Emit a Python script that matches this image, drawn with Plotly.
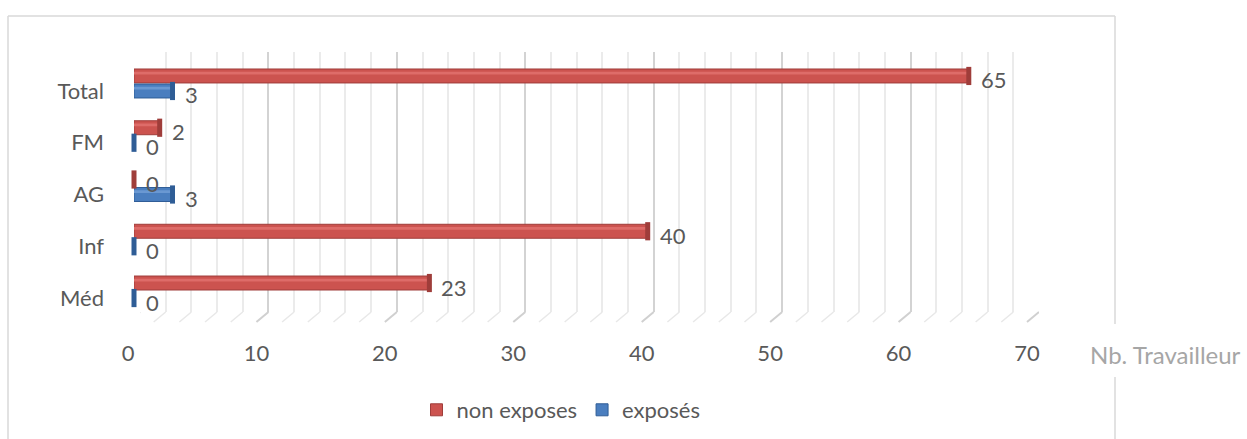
import plotly.graph_objects as go

# ---- data ----
categories = ["Méd", "Inf", "AG", "FM", "Total"]
non_exposes = [23, 40, 0, 2, 65]
exposes = [0, 0, 3, 0, 3]
series_names = ["non exposes", "exposés"]
x_ticks = [0, 10, 20, 30, 40, 50, 60, 70]
axis_title = "Nb. Travailleur"

W, H = 1247, 439
FONT = "Lato"
FS = 22
TXT = "#595959"
RED, RED_D, RED_L = "#cc534f", "#9f3d3a", "#de6c69"
BLUE, BLUE_D, BLUE_L = "#4a7ebf", "#2f5d96", "#6a98d2"


def px_x(p):
    return p / W


def px_y(p):
    return (H - p) / H


# category positions & series offsets (in category units)
idx = list(range(len(categories)))
off = 0.145
y_red = [i + off for i in idx]
y_blue = [i - off for i in idx]
bw = 0.27

fig = go.Figure()

# subplot 1 (x / y): back wall with grid -- dummy trace only
fig.add_trace(go.Scatter(x=[0, 70], y=[0, 1], mode="none", xaxis="x", yaxis="y",
                         showlegend=False, hoverinfo="skip"))

# subplot 2 (x2 / y2): bars on the middle plane
fig.add_trace(go.Bar(x=non_exposes, y=y_red, orientation="h", width=bw, name=series_names[0],
                     marker=dict(color=RED, line=dict(color=RED_D, width=1)), xaxis="x2", yaxis="y2"))
fig.add_trace(go.Bar(x=exposes, y=y_blue, orientation="h", width=bw, name=series_names[1],
                     marker=dict(color=BLUE, line=dict(color=BLUE_D, width=1)), xaxis="x2", yaxis="y2"))
fig.add_trace(go.Bar(x=non_exposes, y=[v + 0.055 for v in y_red], orientation="h", width=0.05,
                     marker=dict(color=RED_L, line=dict(width=0)), showlegend=False, hoverinfo="skip",
                     xaxis="x2", yaxis="y2"))
fig.add_trace(go.Bar(x=exposes, y=[v + 0.055 for v in y_blue], orientation="h", width=0.05,
                     marker=dict(color=BLUE_L, line=dict(width=0)), showlegend=False, hoverinfo="skip",
                     xaxis="x2", yaxis="y2"))
fig.add_trace(go.Scatter(x=non_exposes, y=y_red, mode="markers", showlegend=False, hoverinfo="skip",
                         cliponaxis=False,
                         marker=dict(symbol="line-ns", size=13, line=dict(color=RED_D, width=5)),
                         xaxis="x2", yaxis="y2"))
fig.add_trace(go.Scatter(x=exposes, y=y_blue, mode="markers", showlegend=False, hoverinfo="skip",
                         cliponaxis=False,
                         marker=dict(symbol="line-ns", size=13, line=dict(color=BLUE_D, width=5)),
                         xaxis="x2", yaxis="y2"))

# subplot 3 (x3 / y3): front edge carrying the tick labels -- dummy trace
fig.add_trace(go.Scatter(x=[0, 70], y=[0, 1], mode="none", xaxis="x3", yaxis="y3",
                         showlegend=False, hoverinfo="skip"))

# data labels
ann = []
for vals, ys in ((non_exposes, y_red), (exposes, y_blue)):
    for v, yy in zip(vals, ys):
        ann.append(dict(x=v, y=yy, xref="x2", yref="y2", text=str(v), showarrow=False,
                        xanchor="left", yanchor="middle", xshift=10, yshift=-4,
                        font=dict(family=FONT, size=FS, color=TXT)))
ann.append(dict(x=px_x(1165), y=px_y(354), xref="paper", yref="paper", text=axis_title,
                showarrow=False, xanchor="center", yanchor="middle",
                font=dict(family=FONT, size=24, color="#a6a6a6")))

# floor diagonals + frame
shapes = []
for t in range(0, 71, 2):
    major = t % 10 == 0
    shapes.append(dict(type="line", xref="x", yref="paper", xsizemode="pixel", xanchor=t,
                       x0=0, x1=-12, y0=px_y(312), y1=px_y(322),
                       line=dict(color="#d0d0d0" if major else "#e8e8e8", width=2 if major else 1.5)))
frame = dict(color="#d9d9d9", width=1.5)
shapes += [
    dict(type="line", xref="paper", yref="paper", x0=px_x(8), x1=px_x(1115), y0=px_y(16), y1=px_y(16), line=frame),
    dict(type="line", xref="paper", yref="paper", x0=px_x(8), x1=px_x(8), y0=px_y(16), y1=0, line=frame),
    dict(type="line", xref="paper", yref="paper", x0=px_x(1115), x1=px_x(1115), y0=px_y(16), y1=px_y(324), line=frame),
    dict(type="line", xref="paper", yref="paper", x0=px_x(1115), x1=px_x(1115), y0=px_y(377), y1=0, line=frame),
]

noax = dict(showgrid=False, zeroline=False, showline=False, automargin=False)

fig.update_layout(
    width=W, height=H, autosize=False, margin=dict(l=0, r=0, t=0, b=0, pad=0),
    paper_bgcolor="white", plot_bgcolor="rgba(0,0,0,0)",
    barmode="overlay", font=dict(family=FONT, color=TXT, size=FS),
    showlegend=True,
    legend=dict(orientation="h", x=px_x(561), y=px_y(410), xanchor="center", yanchor="middle",
                font=dict(family=FONT, size=FS, color=TXT), itemwidth=30, traceorder="normal"),
    # back wall
    xaxis=dict(domain=[px_x(140), px_x(1039)], range=[0, 70], anchor="y",
               showgrid=True, gridcolor="#d3d3d3", gridwidth=2, dtick=10, tick0=0,
               minor=dict(dtick=2, showgrid=True, gridcolor="#ebebeb", gridwidth=1.5),
               showticklabels=False, zeroline=False, showline=False, automargin=False),
    yaxis=dict(domain=[px_y(312), px_y(52)], range=[0, 1], anchor="x", showticklabels=False, **noax),
    # bars
    xaxis2=dict(domain=[px_x(134), px_x(1033)], range=[0, 70], anchor="y2", showticklabels=False, **noax),
    yaxis2=dict(domain=[px_y(316.4), px_y(57.6)], range=[-0.5, 4.5], anchor="x2",
                tickvals=y_blue, ticktext=categories, ticklabelstandoff=29,
                tickfont=dict(family=FONT, size=FS, color=TXT), **noax),
    # front edge / tick labels
    xaxis3=dict(domain=[px_x(128), px_x(1027)], range=[0, 70], anchor="y3", tickvals=x_ticks,
                ticks="", ticklabelstandoff=16, tickfont=dict(family=FONT, size=FS, color=TXT), **noax),
    yaxis3=dict(domain=[px_y(322), px_y(321)], range=[0, 1], anchor="x3", showticklabels=False, **noax),
    annotations=ann, shapes=shapes,
)

fig.write_html("out.html")
